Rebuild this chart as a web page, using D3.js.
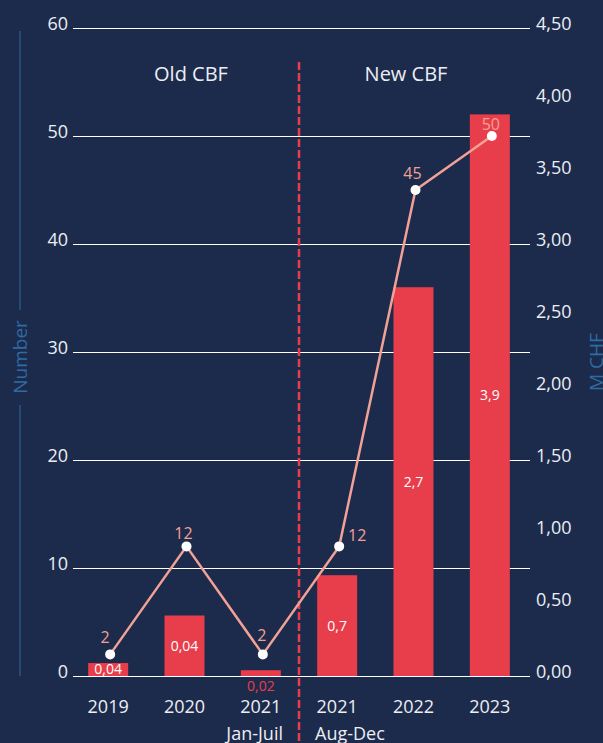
<!DOCTYPE html>
<html>
<head>
<meta charset="utf-8">
<script src="https://cdn.jsdelivr.net/npm/d3@7"></script>
<style>
  html, body { margin: 0; padding: 0; background: #1c2b4b; }
  svg { display: block; font-family: "Open Sans", sans-serif; }
</style>
</head>
<body>
<svg id="chart"></svg>
<script>
// data
var categories = ["2019", "2020", "2021a", "2021b", "2022", "2023"];
var yearLabels = ["2019", "2020", "2021", "2021", "2022", "2023"];
var amounts = [0.09, 0.42, 0.04, 0.7, 2.7, 3.9];          // M CHF (bars)
var amountLabels = ["0,04", "0,04", "0,02", "0,7", "2,7", "3,9"];
var counts = [2, 12, 2, 12, 45, 50];                     // Number (line)
var leftTicks = [0, 10, 20, 30, 40, 50, 60];
var rightTicks = [0, 0.5, 1, 1.5, 2, 2.5, 3, 3.5, 4, 4.5];

var width = 603, height = 743;
var svg = d3.select("#chart").attr("width", width).attr("height", height);

var red = "#e83e4c", pink = "#f2a196", txt = "#eceef3", blue = "#2f6aa3";

var x = d3.scaleBand().domain(categories).range([70, 528])
    .paddingInner(0.476).paddingOuter(0.238);
var yL = d3.scaleLinear().domain([0, 60]).range([676, 28]);
var yR = d3.scaleLinear().domain([0, 4.5]).range([676, 28]);

var fr = d3.formatLocale({decimal: ",", thousands: " ", grouping: [3], currency: ["", ""]});

// left axis + gridlines
var gL = svg.append("g").attr("transform", "translate(73,0)")
    .call(d3.axisLeft(yL).tickValues(leftTicks).tickSize(-457).tickPadding(5));
gL.select(".domain").remove();
gL.selectAll(".tick line").attr("stroke", "#fff").attr("stroke-width", 1);
gL.selectAll(".tick text").attr("fill", txt).attr("font-size", 18)
    .attr("font-family", "Open Sans").attr("dy", "0.1em");

// right axis
var gR = svg.append("g").attr("transform", "translate(530,0)")
    .call(d3.axisRight(yR).tickValues(rightTicks).tickSize(0).tickPadding(6)
        .tickFormat(fr.format(".2f")));
gR.select(".domain").remove();
gR.selectAll(".tick text").attr("fill", txt).attr("font-size", 18)
    .attr("font-family", "Open Sans").attr("dy", "0.1em");

// bars
svg.selectAll(".bar").data(amounts).enter().append("rect")
    .attr("class", "bar")
    .attr("x", (d, i) => x(categories[i]))
    .attr("width", x.bandwidth())
    .attr("y", d => yR(d))
    .attr("height", d => yR(0) - yR(d))
    .attr("fill", red);

// bar labels
svg.selectAll(".barlabel").data(amounts).enter().append("text")
    .attr("class", "barlabel")
    .attr("x", (d, i) => x(categories[i]) + x.bandwidth() / 2)
    .attr("y", d => (yR(0) - yR(d)) < 10 ? yR(0) + 10 : (yR(d) + yR(0)) / 2)
    .attr("dy", "0.35em")
    .attr("text-anchor", "middle")
    .attr("font-size", 14)
    .attr("fill", d => (yR(0) - yR(d)) < 10 ? red : "#fff")
    .text((d, i) => amountLabels[i]);

// separator
svg.append("line")
    .attr("x1", 299).attr("x2", 299).attr("y1", 62).attr("y2", height)
    .attr("stroke", red).attr("stroke-width", 2.5).attr("stroke-dasharray", "8,3");

svg.append("text").attr("x", 191).attr("y", 81).attr("text-anchor", "middle")
    .attr("font-size", 20).attr("fill", txt).text("Old CBF");
svg.append("text").attr("x", 406).attr("y", 81).attr("text-anchor", "middle")
    .attr("font-size", 20).attr("fill", txt).text("New CBF");

// line
var cx = (d, i) => x(categories[i]) + x.bandwidth() / 2 + 2;
var line = d3.line().x(cx).y(d => yL(d));
svg.append("path").datum(counts)
    .attr("d", line)
    .attr("fill", "none")
    .attr("stroke", pink)
    .attr("stroke-width", 2.5);

svg.selectAll(".dot").data(counts).enter().append("circle")
    .attr("class", "dot")
    .attr("cx", cx).attr("cy", d => yL(d)).attr("r", 5)
    .attr("fill", "#fff");

var labelOffsets = [[-5, -11], [-3, -7], [-1, -13], [18, -5], [-3, -11], [-1, -6]];
svg.selectAll(".linelabel").data(counts).enter().append("text")
    .attr("class", "linelabel")
    .attr("x", (d, i) => cx(d, i) + labelOffsets[i][0])
    .attr("y", (d, i) => yL(d) + labelOffsets[i][1])
    .attr("text-anchor", "middle")
    .attr("font-size", 16)
    .attr("fill", pink)
    .text(d => d);

// x labels
svg.selectAll(".xlabel").data(yearLabels).enter().append("text")
    .attr("class", "xlabel")
    .attr("x", (d, i) => x(categories[i]) + x.bandwidth() / 2)
    .attr("y", 713)
    .attr("text-anchor", "middle")
    .attr("font-size", 18)
    .attr("fill", txt)
    .text(d => d);
svg.append("text").attr("x", 283).attr("y", 740).attr("text-anchor", "end")
    .attr("font-size", 18).attr("fill", txt).text("Jan-Juil");
svg.append("text").attr("x", 315).attr("y", 740).attr("text-anchor", "start")
    .attr("font-size", 18).attr("fill", txt).text("Aug-Dec");

// axis titles
svg.append("line").attr("x1", 20).attr("x2", 20).attr("y1", 31).attr("y2", 310)
    .attr("stroke", blue).attr("stroke-width", 1);
svg.append("line").attr("x1", 20).attr("x2", 20).attr("y1", 405).attr("y2", 676)
    .attr("stroke", blue).attr("stroke-width", 1);
svg.append("text").attr("transform", "translate(27,357) rotate(-90)")
    .attr("text-anchor", "middle").attr("font-size", 19).attr("fill", blue)
    .text("Number");
svg.append("text").attr("transform", "translate(603,362) rotate(-90)")
    .attr("text-anchor", "middle").attr("font-size", 19).attr("fill", blue)
    .text("M CHF");
</script>
</body>
</html>
